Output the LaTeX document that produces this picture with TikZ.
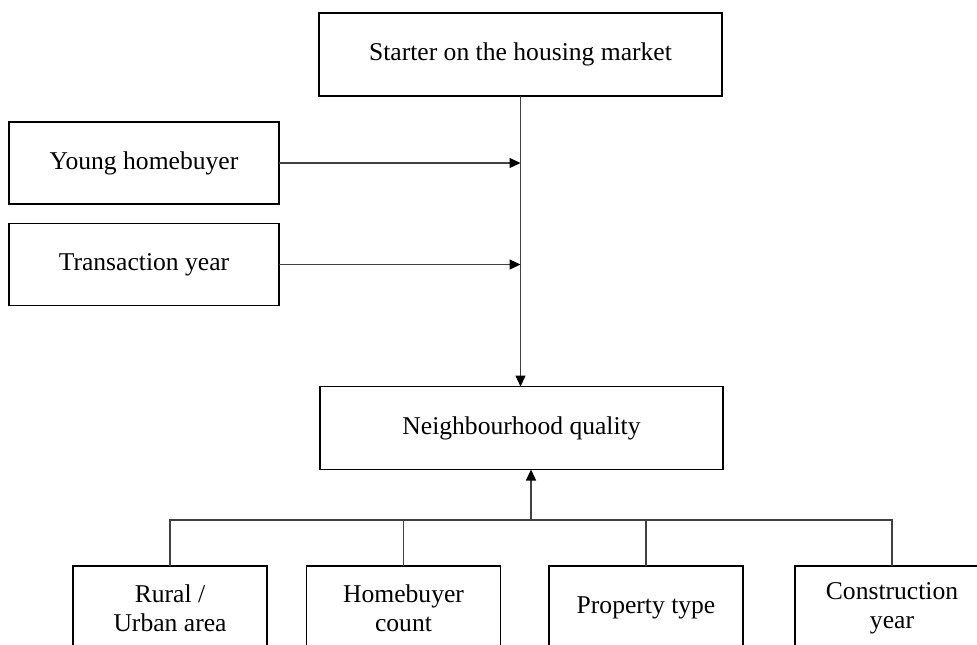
\documentclass[tikz,border=0pt]{standalone}
\usepackage{fontspec}
\setmainfont{Liberation Serif}
\usetikzlibrary{arrows.meta}
\begin{document}
\begin{tikzpicture}[x=0.5pt,y=-0.5pt,inner sep=0pt,outer sep=0pt,
factorbox/.style={draw,rectangle,line width=0.9pt,align=center,font=\fontsize{12.8}{14.5}\selectfont},
widebox/.style={factorbox,minimum width=201.5pt,minimum height=41.5pt},
sidebox/.style={factorbox,minimum width=135pt,minimum height=41pt},
lowbox/.style={factorbox,minimum width=97pt,minimum height=42pt},
link/.style={line width=0.6pt,black!75},
arr/.style={link,-{Triangle[length=5.5pt,width=5pt,black]}}]
\useasboundingbox (0,0) rectangle (977,644);
\clip (0,0) rectangle (977,644);
\draw (520.5,54.5) node[widebox] (starter) {Starter on the housing market};
\draw (144,163) node[sidebox] (young) {Young homebuyer};
\draw (144,264.5) node[sidebox] (trans) {Transaction year};
\draw (521.5,428) node[widebox] (nbh) {Neighbourhood quality};
\draw (170,608) node[lowbox] (rural) {Rural /\\Urban area};
\draw (403.5,608) node[lowbox] (count) {Homebuyer\\count};
\draw (646,608) node[lowbox] (ptype) {Property type};
\draw (892,608) node[lowbox] (cyear) {Construction\\year};
\coordinate (bus) at (531,520);
\draw[arr] (starter.south) -- (starter.south |- nbh.north);
\draw[arr] (young.east) -- (young.east -| starter.south);
\draw[arr] (trans.east) -- (trans.east -| starter.south);
\draw[link] (rural.north) |- (bus) -| (cyear.north);
\draw[link] (count.north) -- (count.north |- bus);
\draw[link] (ptype.north) -- (ptype.north |- bus);
\draw[arr] (bus) -- (bus |- nbh.south);
\end{tikzpicture}
\end{document}
